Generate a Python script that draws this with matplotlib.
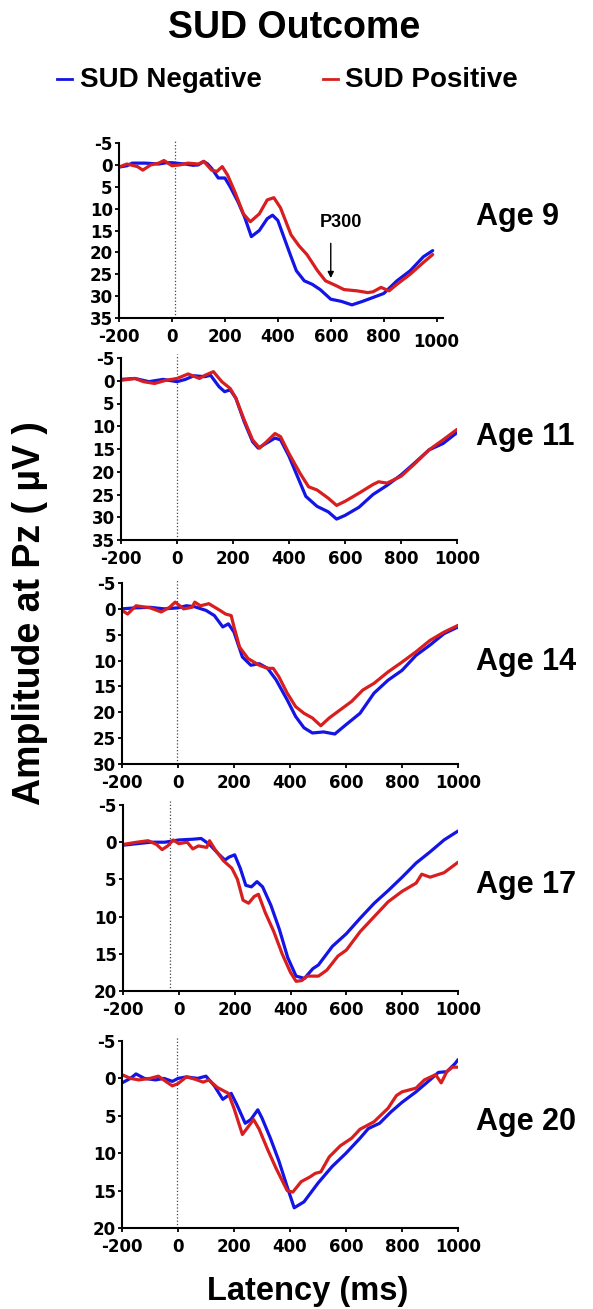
import matplotlib
matplotlib.use("Agg")
import matplotlib.pyplot as plt

plt.rcParams['font.family'] = ['Liberation Sans', 'DejaVu Sans']
plt.rcParams['font.weight'] = 'bold'
plt.rcParams['axes.unicode_minus'] = False

BLUE = '#1414e6'
RED = '#d81e1e'

ages = ['Age 9', 'Age 11', 'Age 14', 'Age 17', 'Age 20']
xticks = [-200, 0, 200, 400, 600, 800, 1000]
ymax = [35, 35, 30, 20, 20]
stim_ms = [12, 0, -5, -30, -5]

# ---- Age 9 ----
t9_neg = [-200, -170, -150, -100, -50, -20, 0, 30, 50, 80, 100, 120, 135, 150, 175, 200, 220, 250, 275, 300,
          330, 360, 380, 400, 430, 450, 470, 500, 530, 560, 600, 640, 680, 720, 760, 800, 850, 900, 950, 985]
v9_neg = [0.5, 0.2, -0.4, -0.4, -0.2, -0.5, -0.5, -0.3, -0.2, 0.1, 0, -0.8, -0.2, 0.8, 3, 3, 5, 8.5, 12, 16.4,
          15, 12.3, 11.5, 12.7, 17.7, 21, 24.2, 26.5, 27.3, 28.5, 30.7, 31.2, 32, 31.2, 30.3, 29.4, 26.5, 24.2, 21, 19.6]
t9_pos = [-200, -170, -130, -110, -80, -50, -30, 0, 30, 60, 100, 120, 150, 170, 190, 210, 240, 270, 296, 330,
          360, 385, 410, 450, 480, 510, 550, 580, 620, 650, 700, 740, 760, 790, 820, 850, 900, 950, 985]
v9_pos = [0.5, -0.2, 0.4, 1.2, 0, -0.4, -1, 0.2, 0, -0.4, -0.2, -0.8, 1.2, 1.5, 0.4, 2.3, 6.5, 11.2, 13, 11.2,
          8, 7.5, 9.8, 16, 18.5, 20.5, 24.2, 26.5, 27.6, 28.5, 28.8, 29.2, 29, 28, 28.8, 27.3, 25, 22.3, 20.5]

# ---- Age 11 ----
t11_neg = [-200, -150, -100, -50, 0, 30, 60, 100, 120, 150, 170, 190, 210, 240, 270, 290, 320, 350, 370, 400,
           430, 460, 500, 540, 570, 600, 650, 700, 750, 800, 850, 900, 950, 1000]
v11_neg = [-0.3, -0.5, 0.2, -0.3, 0.2, -0.3, -1.1, -0.9, -1.2, 1.3, 2.4, 2, 3.8, 9, 13.4, 14.8, 13.7, 12.6, 13, 16.6,
           21, 25.4, 27.6, 28.8, 30.4, 29.6, 27.8, 25, 23, 20.7, 18, 15.2, 13.8, 11.4]
t11_pos = [-200, -150, -120, -80, -40, 0, 40, 80, 100, 130, 160, 190, 210, 240, 270, 295, 320, 350, 370, 400,
           440, 470, 500, 540, 570, 600, 650, 700, 720, 750, 800, 850, 900, 950, 1000]
v11_pos = [-0.1, -0.5, 0.2, 0.6, -0.1, -0.5, -1.5, -0.5, -1.2, -2, 0.2, 1.7, 3.8, 8.6, 13, 14.8, 13.4, 11.6, 12.3, 16,
           20.4, 23.3, 24, 25.8, 27.4, 26.5, 24.7, 22.8, 22.2, 22.5, 21, 18.2, 15.2, 13, 10.7]

# ---- Age 14 ----
t14_neg = [-200, -150, -100, -50, 0, 30, 60, 100, 130, 160, 180, 200, 230, 260, 290, 320, 350, 390, 420, 450,
           480, 520, 560, 600, 650, 700, 750, 800, 850, 900, 950, 1000]
v14_neg = [0, -0.2, -0.3, 0, -0.2, -0.6, -0.4, 0.3, 1.3, 3.5, 2.9, 4.5, 9.3, 10.9, 10.6, 11.5, 13.7, 17.6, 20.8, 23,
           24, 23.8, 24.2, 22.4, 20.2, 16.3, 13.8, 11.9, 9, 7, 4.8, 3.5]
t14_pos = [-200, -180, -150, -100, -60, -30, -10, 20, 50, 60, 80, 110, 150, 170, 190, 200, 220, 250, 290, 320,
           340, 360, 390, 420, 450, 480, 510, 540, 580, 620, 660, 700, 750, 800, 850, 900, 950, 1000]
v14_pos = [0.3, 1, -0.6, -0.2, 0.6, -0.3, -1.3, 0, -0.3, -1.3, -0.6, -1, 0.3, 1, 1.3, 3.5, 7.4, 9.6, 10.9, 11.5,
           11.5, 13.1, 16.3, 18.9, 20.2, 21.1, 22.6, 21.1, 19.5, 17.9, 15.7, 14.4, 12.2, 10.3, 8.3, 6.1, 4.5, 3.2]

# ---- Age 17 ----
t17_neg = [-200, -150, -100, -50, 0, 50, 80, 110, 140, 165, 180, 200, 220, 240, 260, 280, 300, 330, 360, 390,
           420, 450, 480, 500, 550, 600, 650, 700, 750, 800, 850, 900, 950, 1000]
v17_neg = [0.4, 0.2, 0, 0, -0.3, -0.4, -0.5, 0.3, 1.5, 2.4, 2, 1.7, 3.5, 5.8, 6, 5.3, 6, 8.5, 11.7, 15.5,
           18, 18.3, 17, 16.5, 14, 12.3, 10.2, 8.2, 6.5, 4.7, 2.8, 1.3, -0.3, -1.5]
t17_pos = [-200, -150, -110, -80, -60, -40, -20, 0, 30, 50, 70, 100, 110, 130, 160, 190, 210, 230, 250, 270,
           285, 310, 340, 370, 400, 420, 440, 460, 500, 530, 570, 600, 650, 700, 750, 800, 850, 870, 900, 950, 1000]
v17_pos = [0.3, 0, -0.2, 0.3, 1, 0.5, -0.3, 0.2, 0, 0.9, 0.5, 0.7, -0.2, 1, 2.5, 3.5, 5, 7.8, 8.2, 7.3,
           7, 9.5, 12, 15, 17.5, 18.7, 18.6, 18, 18, 17.2, 15.3, 14.5, 12, 10, 8, 6.6, 5.5, 4.3, 4.7, 4.1, 2.7]

# ---- Age 20 ----
t20_neg = [-200, -170, -150, -120, -80, -50, -20, 0, 30, 70, 100, 130, 160, 190, 210, 240, 260, 285, 300, 330,
           360, 390, 415, 450, 500, 550, 600, 650, 680, 720, 760, 800, 850, 900, 930, 960, 990, 1000]
v20_neg = [0.6, 0, -0.6, 0, 0.2, 0, 0.4, 0, -0.2, 0, -0.3, 1, 2.8, 2, 3.5, 6, 5.5, 4.2, 5.3, 8,
           11, 14.5, 17.3, 16.5, 14, 11.8, 10, 8, 6.7, 6, 4.5, 3.2, 1.8, 0.2, -0.8, -0.9, -2, -2.5]
t20_pos = [-200, -170, -140, -100, -70, -40, -20, 0, 30, 60, 90, 110, 140, 180, 200, 230, 250, 270, 290, 320,
           350, 390, 410, 440, 470, 490, 510, 540, 580, 620, 650, 700, 750, 780, 800, 850, 880, 920, 940, 960, 980, 1000]
v20_pos = [-0.5, 0, 0.2, 0, -0.3, 0.5, 1, 0.7, -0.2, 0.1, 0.5, 0.2, 1.2, 2, 4, 7.5, 6.5, 5.5, 6.8, 9.5,
           12, 15, 15.2, 13.8, 13.2, 12.7, 12.5, 10.5, 9, 8, 6.8, 5.8, 4, 2.3, 1.8, 1.3, 0.2, -0.5, 0.6, -0.9, -1.5, -1.5]

neg_t = [t9_neg, t11_neg, t14_neg, t17_neg, t20_neg]
neg_v = [v9_neg, v11_neg, v14_neg, v17_neg, v20_neg]
pos_t = [t9_pos, t11_pos, t14_pos, t17_pos, t20_pos]
pos_v = [v9_pos, v11_pos, v14_pos, v17_pos, v20_pos]

W, H = 593, 1309
fig = plt.figure(figsize=(W / 100, H / 100), dpi=100)

# axes boxes in pixels: left, right, top, bottom
boxes = [(119, 443, 143, 318), (121, 457, 358, 540), (122, 458, 583, 764),
         (123, 458, 805, 991), (122, 458, 1041, 1228)]
xright = [1024, 1000, 1000, 1000, 1000]
age_baseline = [225, 445, 670, 893, 1130]


def ftext(x, y, s, **kw):
    return fig.text(x / W, 1 - y / H, s, **kw)


for i in range(5):
    l, r, t, b = boxes[i]
    ax = fig.add_axes([l / W, 1 - b / H, (r - l) / W, (b - t) / H])
    ax.plot(neg_t[i], neg_v[i], color=BLUE, lw=2.3, solid_joinstyle='round', solid_capstyle='round')
    ax.plot(pos_t[i], pos_v[i], color=RED, lw=2.3, solid_joinstyle='round', solid_capstyle='round')
    ax.axvline(stim_ms[i], ymax=1.02, color='#444444', lw=0.9, ls=':', zorder=0, clip_on=False)
    ax.set_xlim(-200, xright[i])
    ax.set_ylim(ymax[i], -5)
    ax.set_yticks(list(range(-5, ymax[i] + 1, 5)))
    ax.set_xticks(xticks)
    for s in ['top', 'right']:
        ax.spines[s].set_visible(False)
    for s in ['left', 'bottom']:
        ax.spines[s].set_linewidth(1.5)
    ax.tick_params(axis='y', direction='out', length=3, width=1.3, pad=1.5)
    ax.tick_params(axis='x', direction='out', length=3, width=1.3, pad=4)
    for lab in ax.get_xticklabels() + ax.get_yticklabels():
        lab.set_fontweight('bold')
        lab.set_fontfamily('DejaVu Sans')
        lab.set_fontsize(12)
    if i == 0:
        ax.xaxis.get_major_ticks()[-1].set_pad(7.5)
        ax.annotate('', xy=(600, 26.5), xytext=(600, 17.3),
                    arrowprops=dict(arrowstyle='-|>', color='black', lw=1.0, mutation_scale=9))
        ax.text(640, 14.3, 'P300', fontsize=13, fontweight='bold', ha='center', va='baseline')
    ftext(476, age_baseline[i], ages[i], fontsize=22, fontweight='bold', ha='left', va='baseline')

# title and legend
ftext(294, 38, 'SUD Outcome', fontsize=27, fontweight='bold', ha='center', va='baseline')
fig.add_artist(plt.Line2D([57 / W, 72 / W], [1 - 79 / H, 1 - 79 / H], color=BLUE, lw=2))
ftext(80, 87, 'SUD Negative', fontsize=20, fontweight='bold', ha='left', va='baseline')
fig.add_artist(plt.Line2D([323 / W, 338 / W], [1 - 79 / H, 1 - 79 / H], color=RED, lw=2))
ftext(345, 87, 'SUD Positive', fontsize=20, fontweight='bold', ha='left', va='baseline')

# axis labels
ftext(30, 613, 'Amplitude at Pz ( µV )', fontsize=27, fontweight='bold', rotation=90,
      ha='center', va='center')
ftext(308, 1300, 'Latency (ms)', fontsize=23.5, fontweight='bold', ha='center', va='baseline')

fig.savefig('out.png', dpi=100, facecolor='white')
